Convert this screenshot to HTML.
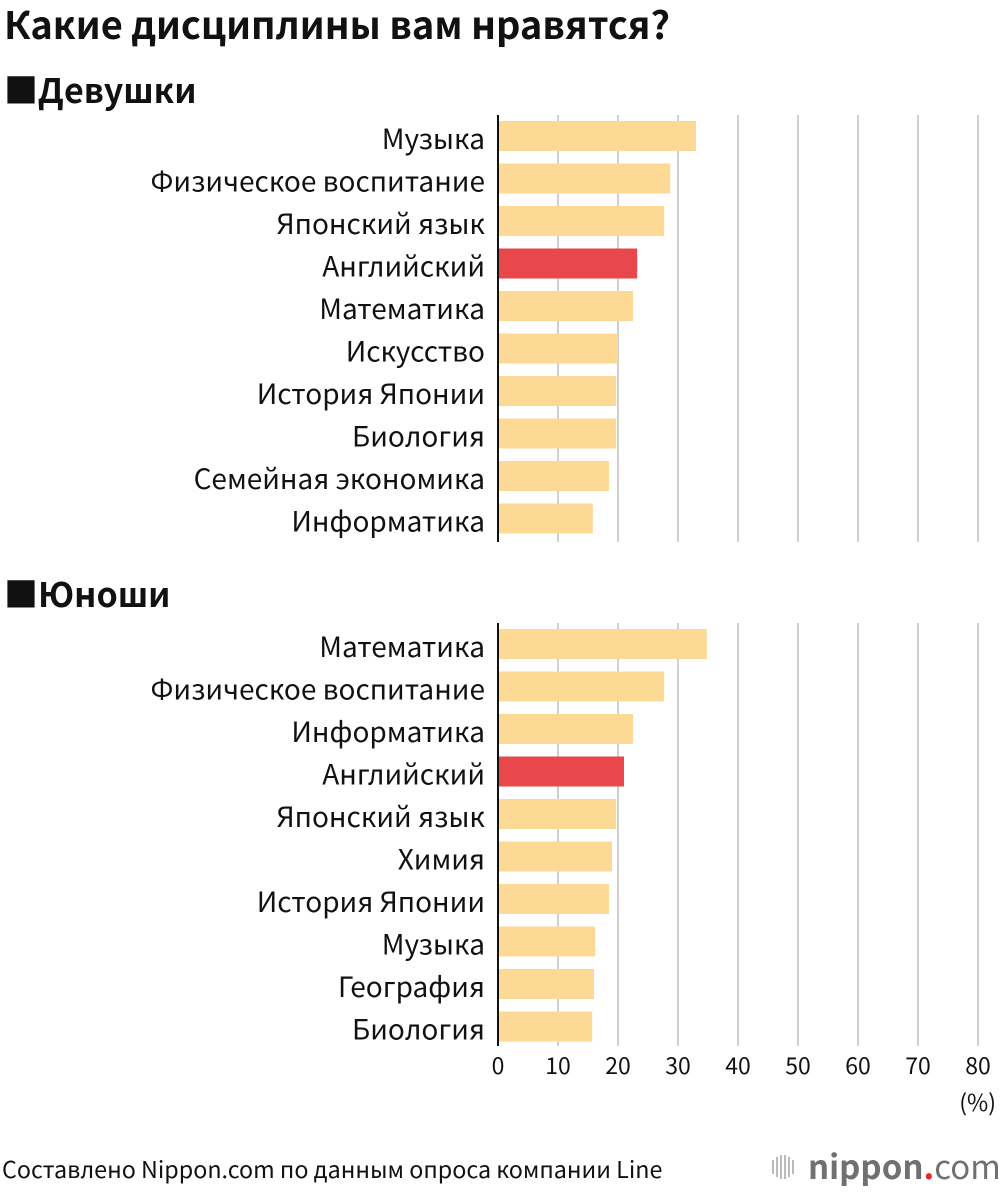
<!DOCTYPE html>
<html><head><meta charset="utf-8"><style>
body{margin:0;background:#fff;width:1000px;height:1190px;overflow:hidden}
text{font-family:"Noto Sans CJK JP","Liberation Sans",sans-serif}
</style></head><body>
<svg width="1000" height="1190" xmlns="http://www.w3.org/2000/svg" id="svg">
<text x="4" y="39" font-size="38" font-weight="bold" fill="#111">Какие дисциплины вам нравятся?</text>
<text x="4" y="103" font-size="34" font-weight="bold" fill="#111">■Девушки</text>
<text x="4" y="607" font-size="34" font-weight="bold" fill="#111">■Юноши</text>
<text x="996" y="1111" font-size="23" text-anchor="end" fill="#111">(%)</text>
<text x="2" y="1178" font-size="23.3" fill="#111">Составлено Nippon.com по данным опроса компании Line</text>
<g fill="#bbb">
<rect x="772" y="1160" width="2" height="14"/><rect x="776" y="1157" width="2" height="20"/><rect x="780" y="1155" width="2" height="24"/><rect x="784" y="1155" width="2" height="24"/><rect x="788" y="1157" width="2" height="20"/><rect x="792" y="1160" width="2" height="14"/>
<text x="808" y="1179" font-size="33" font-weight="bold" fill="#707070" font-family="Liberation Sans">nippon<tspan fill="#e8272d">.</tspan><tspan font-weight="normal">com</tspan></text>
</g>
</svg>
<script>
const girlsCats=["Музыка","Физическое воспитание","Японский язык","Английский","Математика","Искусство","История Японии","Биология","Семейная экономика","Информатика"];
const girlsVals=[33,28.7,27.7,23.2,22.5,20,19.7,19.7,18.5,15.8];
const boysCats=["Математика","Физическое воспитание","Информатика","Английский","Японский язык","Химия","История Японии","Музыка","География","Биология"];
const boysVals=[34.8,27.7,22.5,21,19.7,19,18.5,16.2,16,15.7];
const ticks=[0,10,20,30,40,50,60,70,80];
const svg=document.getElementById('svg');
const NS='http://www.w3.org/2000/svg';
const x0=498,pxPer=6;
const xs=v=>x0+v*pxPer;
function el(t,a){const e=document.createElementNS(NS,t);for(const k in a)e.setAttribute(k,a[k]);svg.appendChild(e);return e;}
function panel(cats,vals,top,bottom,firstBar,name){
  ticks.slice(1).forEach(t=>{
    const g=el('line',{x1:xs(t),x2:xs(t),y1:top,y2:bottom,stroke:'#cfcfcf','stroke-width':2});
    
    
  });
  const pitch=42.5;
  cats.forEach((c,i)=>{
    const y=firstBar+i*pitch;
    const r=el('rect',{x:x0,y:y,width:xs(vals[i])-x0,height:30,fill:c==="Английский"?'#e8474b':'#fcd995'});
    
    
    const t=el('text',{x:485,y:y+28,'font-size':28,'text-anchor':'end',fill:'#111'});
    t.textContent=c;
    
    
  });
  const a=el('line',{x1:x0,x2:x0,y1:top,y2:bottom,stroke:'#111','stroke-width':2});
  
  
}
panel(girlsCats,girlsVals,115,542,121,'girls');
panel(boysCats,boysVals,623,1046,629,'boys');
ticks.forEach(t=>{
  const tx=el('text',{x:xs(t),y:1074,'font-size':23,'text-anchor':'middle',fill:'#111'});
  tx.textContent=t;
  
  
});
</script>
</body></html>
